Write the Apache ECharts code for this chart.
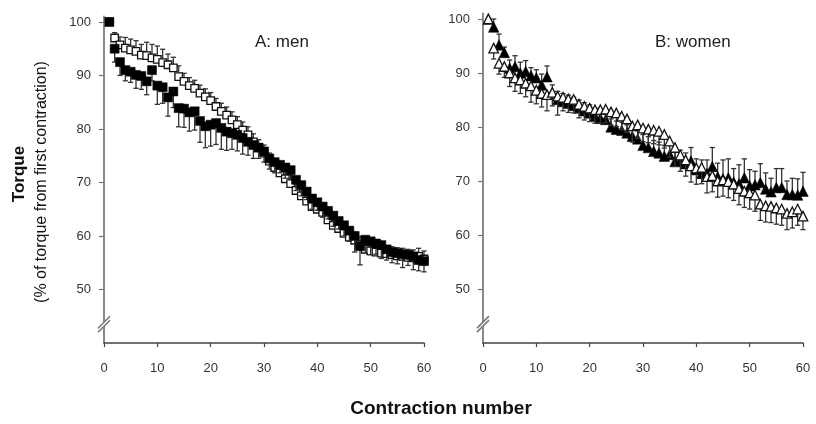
<!DOCTYPE html>
<html>
<head>
<meta charset="utf-8">
<script src="https://cdn.jsdelivr.net/npm/echarts@6/dist/echarts.min.js"></script>
<style>
  html, body { margin: 0; padding: 0; background: #fff; }
  #chart { width: 816px; height: 424px; }
</style>
</head>
<body>
<div id="chart"></div>
<script>
// Contraction numbers (x categories)
const contraction = [1,2,3,4,5,6,7,8,9,10,11,12,13,14,15,16,17,18,19,20,
  21,22,23,24,25,26,27,28,29,30,31,32,33,34,35,36,37,38,39,40,
  41,42,43,44,45,46,47,48,49,50,51,52,53,54,55,56,57,58,59,60];

// Panel A: men — solid squares (mean) and downward SE
const menSolid = [100,95.0,92.5,91.0,90.7,90.1,89.9,88.9,91.0,88.1,
  87.8,85.9,87.0,83.9,83.8,83.1,83.3,81.5,80.5,80.8,
  81.1,80.2,79.5,79.2,78.9,78.3,77.6,77.0,76.5,75.8,
  74.5,73.8,73.3,72.8,72.3,70.5,69.5,68.3,67.0,66.3,
  65.5,64.7,63.8,62.8,62.0,61.0,60.0,58.1,59.3,59.0,
  58.6,58.3,57.5,57.0,56.8,56.6,56.5,56.2,55.5,55.3];
const menSolidErr = [0,2.5,2.5,2,2,2.5,2.5,2.5,2,3.5,
  3,3.5,3,3.5,3.5,3.5,3.5,4,4,4,
  4,4,3.5,3,3,3,2.5,2.5,2,2,
  2,2,1.5,2,1.5,2,2,1.5,2,1.5,
  2,1.5,2,1.5,2,2,3,3.5,2.5,2.5,
  2,2.5,2,2,2,2.5,2,2.5,2,2];

// Panel A: men — hollow squares (mean) and upward SE
const menHollow = [100,97.0,95.7,95.1,94.8,94.5,93.8,93.7,93.3,93.0,
  92.4,92.0,91.4,89.8,88.9,88.1,87.6,86.7,86.0,85.3,
  84.2,83.3,82.6,81.7,80.8,79.8,78.9,77.6,76.5,75.5,
  74.0,72.8,71.8,70.7,69.8,68.5,67.5,66.5,65.5,65.0,
  64.4,63.0,62.0,61.4,60.5,59.8,59.2,58.4,57.5,57.2,
  57.0,56.8,56.7,56.5,56.3,56.2,56.0,55.9,56.2,55.7];
const menHollowErr = [0,1,1.5,2,2,2,2,2.5,2.5,2.5,
  2.5,2,2,2,1.5,1.5,1.5,1.5,1.5,1.5,
  1.5,1.5,1.5,1.5,1.5,1.5,1.5,1.5,1.5,1.5,
  1.5,1.5,1.5,1.5,1.5,1.5,1.5,1.5,1.5,1.5,
  1.5,1.5,1.5,1.5,1.5,1.5,1.5,1.5,1.5,1.5,
  1.5,1.5,1.5,1.5,1.5,1.5,1.5,1.5,1.5,1.5];

// Panel B: women — solid triangles (mean) and upward SE
const womenSolid = [100,98.5,95.2,93.8,90.9,91.2,90.0,90.3,89.5,89.1,
  87.8,89.3,86.3,85.1,84.7,84.4,84.0,83.5,83.0,82.6,
  82.0,81.6,81.4,80.0,79.6,79.4,78.9,78.3,77.8,76.6,
  76.2,75.5,75.2,74.6,74.9,73.6,73.7,73.2,73.7,72.1,
  71.4,71.4,72.7,70.8,70.4,70.6,69.8,69.5,70.6,69.1,
  69.3,69.7,68.5,68.0,68.8,68.8,67.5,67.5,67.4,68.1];
const womenSolidErr = [0,1.5,2,1,1.5,2,2,2,1.5,1.5,
  2,2,1.5,1.5,1.5,1.5,1.5,1.5,1.5,1.5,
  1.5,1.5,1.5,1.5,1.5,1.5,1.5,1.5,1.5,2,
  2,2,2,2,2,2,2,2,2.5,2,
  2.5,2.5,3.5,2.5,3.5,3.5,2.5,3.5,3.5,3,
  2.5,3.5,3,2.5,3.5,3.5,2.5,3,3,3.5];

// Panel B: women — hollow triangles (mean) and downward SE
const womenHollow = [100,94.6,91.8,91.2,90.0,89.1,88.7,88.1,87.6,86.8,
  86.2,86.0,86.4,85.7,85.5,85.2,85.1,84.2,83.8,83.5,
  83.2,83.2,83.3,82.8,82.6,82.0,81.5,80.2,80.4,79.8,
  79.6,79.4,79.2,78.6,77.4,76.2,74.8,73.9,72.8,72.4,
  72.5,70.8,71.0,70.0,70.2,69.9,69.4,68.6,68.1,67.8,
  67.4,65.7,65.4,65.3,65.0,64.8,64.0,64.3,64.8,63.5];
const womenHollowErr = [0,2,2,2,2.5,2.5,2.5,2.5,3,2.5,
  2.5,3,2.5,3.5,2.5,2.5,2.5,2.5,2.5,2.5,
  2.5,2.5,2.5,2.5,2.5,2.5,2.5,3,2.5,2.5,
  2.5,2.5,2.5,2.5,3,3.5,3,3,3,3,
  3,3,3,3,3,3,3,3,3,3,
  3,3,3,3,3,3,3,3,3,2.5];

const xTicks = [0, 10, 20, 30, 40, 50, 60];
const yTicks = [50, 60, 70, 80, 90, 100];

const FONT = '"Liberation Sans", Arial, sans-serif';

function pairs(values) {
  return contraction.map((c, i) => [c, values[i]]);
}

// Error whiskers with a small cap; dir = +1 (up) or -1 (down)
function whiskers(idx, values, errs, dir, z) {
  return {
    type: 'custom',
    xAxisIndex: idx, yAxisIndex: idx,
    z: z, silent: true,
    data: contraction.map((c, i) => [c, values[i], errs[i]]),
    renderItem(params, api) {
      const x = api.value(0), y = api.value(1), e = api.value(2);
      if (!e) return null;
      const a = api.coord([x, y]);
      const b = api.coord([x, y + dir * e]);
      const st = { stroke: '#333', lineWidth: 1.3 };
      return {
        type: 'group',
        children: [
          { type: 'line', shape: { x1: a[0], y1: a[1], x2: b[0], y2: b[1] }, style: st },
          { type: 'line', shape: { x1: b[0] - 2.6, y1: b[1], x2: b[0] + 2.6, y2: b[1] }, style: st }
        ]
      };
    }
  };
}

function marks(idx, values, shape, hollow, size, z) {
  return {
    type: 'scatter',
    xAxisIndex: idx, yAxisIndex: idx,
    z: z, silent: true,
    symbol: shape, symbolSize: size,
    data: pairs(values),
    itemStyle: hollow
      ? { color: '#ffffff', borderColor: '#111', borderWidth: 1.3, opacity: 1 }
      : { color: '#000000', borderColor: '#000000', borderWidth: 0.5, opacity: 1 }
  };
}

function xAxisCfg(idx) {
  return {
    type: 'value', gridIndex: idx, min: 0, max: 60, interval: 10,
    axisLine: { lineStyle: { color: '#444', width: 1.5 } },
    axisTick: { show: true, length: 4, lineStyle: { color: '#444', width: 1.2 }, customValues: xTicks },
    axisLabel: { color: '#333', fontSize: 13, fontFamily: FONT, margin: 19, customValues: xTicks },
    splitLine: { show: false }
  };
}

function yAxisCfg(idx) {
  return {
    type: 'value', gridIndex: idx, min: 40, max: 101,
    axisLine: { show: true, lineStyle: { color: '#8a8a8a', width: 2 } },
    axisTick: { show: true, length: 5, lineStyle: { color: '#777', width: 1.2 }, customValues: yTicks },
    axisLabel: { color: '#333', fontSize: 13, fontFamily: FONT, margin: 13, customValues: yTicks },
    splitLine: { show: false }
  };
}

const chart = echarts.init(document.getElementById('chart'), null, { renderer: 'canvas' });

chart.setOption({
  backgroundColor: '#ffffff',
  animation: false,
  grid: [
    { left: 104, right: 392, top: 16.6, bottom: 81 },
    { left: 483, right: 13, top: 13.6, bottom: 81 }
  ],
  xAxis: [xAxisCfg(0), xAxisCfg(1)],
  yAxis: [yAxisCfg(0), yAxisCfg(1)],
  series: [
    whiskers(0, menHollow, menHollowErr, 1, 2),
    marks(0, menHollow, 'rect', true, 7.5, 3),
    whiskers(0, menSolid, menSolidErr, -1, 4),
    marks(0, menSolid, 'rect', false, 9, 5),
    whiskers(1, womenSolid, womenSolidErr, 1, 2),
    marks(1, womenSolid, 'triangle', false, 10.5, 3),
    whiskers(1, womenHollow, womenHollowErr, -1, 4),
    marks(1, womenHollow, 'triangle', true, 9.5, 5)
  ]
});

// Axis-break slashes, titles and panel labels
function breakMark(gridIndex) {
  const p = chart.convertToPixel({ gridIndex: gridIndex }, [0, 43.5]);
  const lines = [-2, 2].map(off => ({
    type: 'line',
    shape: { x1: p[0] - 6, y1: p[1] + 6 + off, x2: p[0] + 6, y2: p[1] - 6 + off },
    style: { stroke: '#7a7a7a', lineWidth: 1.6 },
    z: 20
  }));
  return [{
    type: 'polygon',
    shape: { points: [[p[0] - 6, p[1] + 4], [p[0] + 6, p[1] - 8], [p[0] + 6, p[1] - 4], [p[0] - 6, p[1] + 8]] },
    style: { fill: '#ffffff' },
    z: 19
  }].concat(lines);
}

chart.setOption({
  graphic: [
    ...breakMark(0),
    ...breakMark(1),
    {
      type: 'text', x: 19, y: 174, rotation: Math.PI / 2,
      style: { text: 'Torque', font: 'bold 17px ' + FONT, fill: '#111', align: 'center', verticalAlign: 'middle' }
    },
    {
      type: 'text', x: 42, y: 182, rotation: Math.PI / 2,
      style: { text: '(% of torque from first contraction)', font: '16px ' + FONT, fill: '#111', align: 'center', verticalAlign: 'middle' }
    },
    {
      type: 'text', x: 441, y: 409,
      style: { text: 'Contraction number', font: 'bold 19px ' + FONT, fill: '#111', align: 'center', verticalAlign: 'middle' }
    },
    {
      type: 'text', x: 255, y: 42,
      style: { text: 'A: men', font: '17px ' + FONT, fill: '#222', align: 'left', verticalAlign: 'middle' }
    },
    {
      type: 'text', x: 655, y: 42,
      style: { text: 'B: women', font: '17px ' + FONT, fill: '#222', align: 'left', verticalAlign: 'middle' }
    }
  ]
});
</script>
</body>
</html>
